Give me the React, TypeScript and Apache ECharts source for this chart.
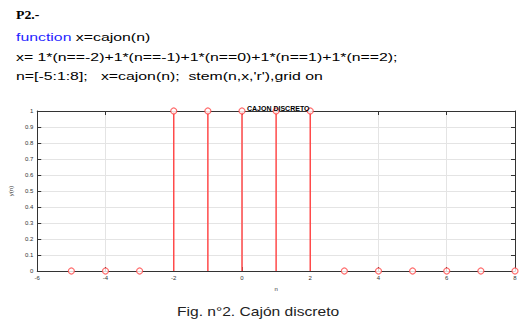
import React, { useEffect, useRef } from "react";
import * as echarts from "echarts";

const nValues = [-5, -4, -3, -2, -1, 0, 1, 2, 3, 4, 5, 6, 7, 8];
const xValues = [0, 0, 0, 1, 1, 1, 1, 1, 0, 0, 0, 0, 0, 0];
const headerLines = [
  "x= 1*(n==-2)+1*(n==-1)+1*(n==0)+1*(n==1)+1*(n==2);",
  "n=[-5:1:8];   x=cajon(n);  stem(n,x,'r'),grid on",
];

export default function App() {
  const ref = useRef<HTMLDivElement>(null);
  useEffect(() => {
    if (!ref.current) return;
    const chart = echarts.init(ref.current, null, { renderer: "svg" });
    const pts = nValues.map((n, i) => [n, xValues[i]]);
    const red = "#ff4a4a";
    const tickLabel = { fontSize: 6, color: "#333", fontFamily: "Liberation Sans" };
    const boxLine = { show: true, onZero: false, lineStyle: { color: "#333", width: 1 } };
    const tick = { show: true, inside: true, length: 4, lineStyle: { color: "#333" } };
    const sx = 1.44;
    chart.setOption({
      animation: false,
      backgroundColor: "#fff",
      title: {
        text: "CAJON DISCRETO",
        left: 242,
        top: 100,
        textStyle: { fontSize: 7, fontWeight: "bold", color: "#000", fontFamily: "Liberation Sans" },
      },
      grid: { left: 32, right: 11, top: 111, bottom: 51 },
      xAxis: [
        {
          type: "value",
          min: -6,
          max: 8,
          interval: 2,
          name: "n",
          nameLocation: "middle",
          nameGap: 15,
          nameTextStyle: { fontSize: 6, color: "#333", fontFamily: "Liberation Sans" },
          axisLine: boxLine,
          axisTick: tick,
          axisLabel: { ...tickLabel, margin: 4 },
          splitLine: { show: true, lineStyle: { color: "#e4e4e4", width: 1 } },
        },
        {
          type: "value",
          position: "top",
          min: -6,
          max: 8,
          interval: 2,
          axisLine: boxLine,
          axisTick: tick,
          axisLabel: { show: false },
          splitLine: { show: false },
        },
      ],
      yAxis: [
        {
          type: "value",
          min: 0,
          max: 1,
          interval: 0.1,
          name: "y(n)",
          nameLocation: "middle",
          nameGap: 16,
          nameRotate: 90,
          nameTextStyle: { fontSize: 6, color: "#333", fontFamily: "Liberation Sans" },
          axisLine: boxLine,
          axisTick: tick,
          axisLabel: { ...tickLabel, margin: 4, formatter: (v: number) => String(Math.round(v * 10) / 10) },
          splitLine: { show: true, lineStyle: { color: "#e4e4e4", width: 1 } },
        },
        {
          type: "value",
          position: "right",
          min: 0,
          max: 1,
          interval: 0.1,
          axisLine: boxLine,
          axisTick: tick,
          axisLabel: { show: false },
          splitLine: { show: false },
        },
      ],
      series: [
        {
          type: "custom",
          xAxisIndex: 0,
          yAxisIndex: 0,
          data: pts,
          clip: false,
          renderItem: (params: any, api: any) => {
            const top = api.coord([api.value(0), api.value(1)]);
            const base = api.coord([api.value(0), 0]);
            return {
              type: "line",
              shape: { x1: base[0], y1: base[1], x2: top[0], y2: top[1] },
              style: { stroke: red, lineWidth: 1.5 },
            };
          },
          z: 3,
        },
        {
          type: "scatter",
          xAxisIndex: 0,
          yAxisIndex: 0,
          data: pts,
          symbol: "circle",
          symbolSize: 6,
          clip: false,
          itemStyle: { color: "#fff", borderColor: red, borderWidth: 1.2 },
          z: 4,
        },
      ],
      graphic: [
        {
          type: "text",
          x: 16,
          y: 9,
          scaleX: 1.15,
          style: { text: "P2.-", font: "bold 12px 'Liberation Serif'", fill: "#000", verticalAlign: "top" },
        },
        {
          type: "text",
          x: 16,
          y: 32,
          scaleX: sx,
          style: {
            text: "{b|function} x=cajon(n)",
            font: "11px 'Liberation Sans'",
            fill: "#000",
            verticalAlign: "top",
            rich: { b: { fill: "#1f1fff", color: "#1f1fff", fontSize: 11, fontFamily: "Liberation Sans" } },
          },
        },
        {
          type: "text",
          x: 16,
          y: 52,
          scaleX: sx,
          style: { text: headerLines[0], font: "11px 'Liberation Sans'", fill: "#000", verticalAlign: "top" },
        },
        {
          type: "text",
          x: 16,
          y: 71,
          scaleX: sx,
          style: { text: headerLines[1], font: "11px 'Liberation Sans'", fill: "#000", verticalAlign: "top" },
        },
        {
          type: "text",
          x: 177,
          y: 305,
          scaleX: 1.2,
          style: { text: "Fig. n°2. Cajón discreto", font: "13px 'Liberation Sans'", fill: "#222", verticalAlign: "top" },
        },
      ],
    });
    return () => chart.dispose();
  }, []);
  return <div ref={ref} style={{ width: 526, height: 322, position: "absolute", left: 0, top: 0 }} />;
}
